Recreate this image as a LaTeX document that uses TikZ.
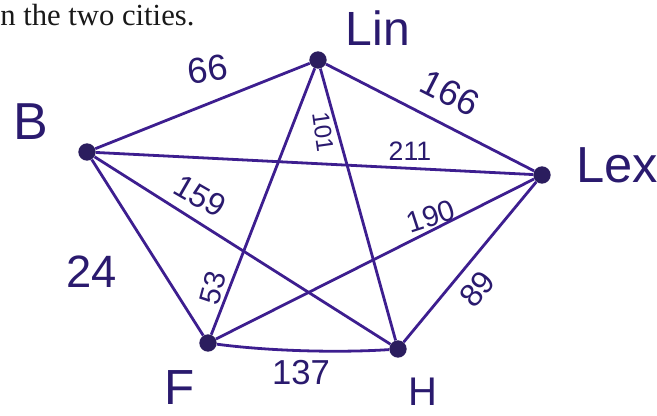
\documentclass[tikz,border=0pt]{standalone}
\usepackage{fontspec}
\setmainfont{Liberation Serif}
\newfontfamily\hand{Liberation Sans}
\definecolor{ink}{HTML}{3D1E8F}
\definecolor{dotc}{HTML}{2B1D5E}
\definecolor{txt}{HTML}{2A1A6E}
\begin{document}
\begin{tikzpicture}[x=0.75pt,y=-0.75pt,
  edge/.style={draw=ink, line width=2.1pt},
  vtx/.style={circle, fill=dotc, inner sep=0pt, minimum size=13pt},
  lab/.style={text=txt, font=\hand\fontsize{#1}{#1}\selectfont, inner sep=0pt},
]
\useasboundingbox (0,0) rectangle (657,415);
\node[anchor=base west, inner sep=0pt, text=black!90, font=\fontsize{23}{23}\selectfont] (cap) at (0,25) {n the two cities.};

\node[vtx] (lin) at (318,60) {};
\node[vtx] (b) at (87,152) {};
\node[vtx] (lex) at (542,175) {};
\node[vtx] (f) at (208,343) {};
\node[vtx] (h) at (398,349) {};

\draw[edge] (b) -- (lin);
\draw[edge] (lin) -- (lex);
\draw[edge] (b) -- (lex);
\draw[edge] (b) -- (f);
\draw[edge] (b) -- (h);
\draw[edge] (lin) -- (f);
\draw[edge] (lin) -- (h);
\draw[edge] (f) -- (lex);
\draw[edge] (h) -- (lex);
\draw[edge] (f) .. controls +(60,8) and +(-60,4) .. (h);

\node[lab=36] (tlin) at (378,28) {Lin};
\node[lab=39] (tb) at (31,122) {B};
\node[lab=38] (tlex) at (617,165) {Lex};
\node[lab=37] (tf) at (180,388) {F};
\node[lab=30] (th) at (423,392) {H};

\node[lab=27, rotate=8] (w66) at (208,69) {66};
\node[lab=27, rotate=-27] (w166) at (450,93) {166};
\node[lab=18, rotate=-82] (w101) at (323,132) {101};
\node[lab=20] (w211) at (410,151) {211};
\node[lab=24, rotate=-30] (w159) at (200,196) {159};
\node[lab=22, rotate=18] (w190) at (431,216) {190};
\node[lab=34] (w24) at (92,272) {24};
\node[lab=22, rotate=75] (w53) at (213,288) {53};
\node[lab=24, rotate=50] (w89) at (477,289) {89};
\node[lab=26] (w137) at (301,373) {137};
\end{tikzpicture}
\end{document}
